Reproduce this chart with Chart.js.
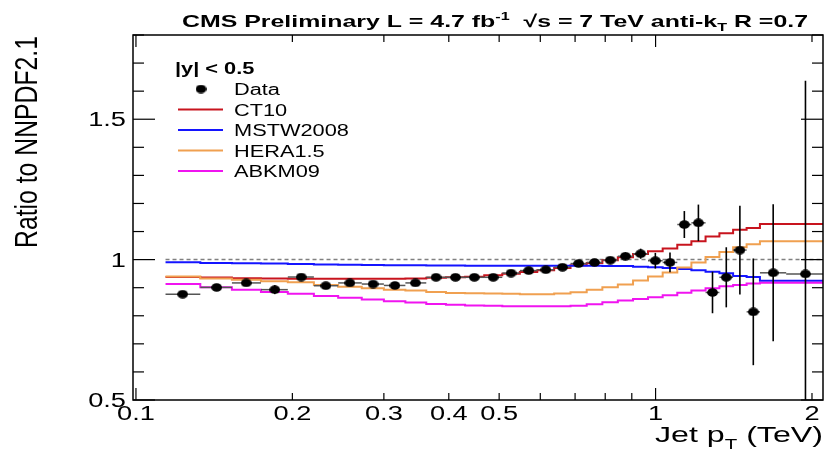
<!DOCTYPE html>
<html>
<head>
<meta charset="utf-8">
<title>Ratio to NNPDF2.1</title>
<script src="https://cdn.jsdelivr.net/npm/chart.js@4.4.1/dist/chart.umd.min.js"></script>
<style>
  html, body { margin: 0; padding: 0; background: #fff; }
  #wrap { width: 829px; height: 451px; }
</style>
</head>
<body>
<div id="wrap"><canvas id="ratioChart" width="829" height="451"></canvas></div>
<script>
/* ===== Data ===== */
// jet pT bin edges (TeV); the last two bins are merged ones
const binEdges = [0.114, 0.133, 0.153, 0.174, 0.196, 0.220, 0.245, 0.272, 0.300, 0.330,
  0.362, 0.395, 0.430, 0.468, 0.507, 0.548, 0.592, 0.638, 0.686, 0.737,
  0.790, 0.846, 0.905, 0.967, 1.032, 1.101, 1.172, 1.248, 1.327, 1.410,
  1.497, 1.588, 1.784, 2.116];

const dataPt = [0.123, 0.143, 0.163, 0.185, 0.208, 0.232, 0.258, 0.286, 0.315, 0.345,
  0.378, 0.412, 0.448, 0.487, 0.527, 0.570, 0.615, 0.662, 0.711, 0.763,
  0.818, 0.875, 0.936, 0.999, 1.066, 1.136, 1.209, 1.287, 1.368, 1.453,
  1.542, 1.684, 1.943];
const dataRatio = [0.877, 0.901, 0.917, 0.893, 0.938, 0.907, 0.917, 0.913, 0.908, 0.917,
  0.937, 0.937, 0.937, 0.937, 0.952, 0.961, 0.964, 0.973, 0.986, 0.990,
  0.998, 1.012, 1.021, 0.996, 0.990, 1.125, 1.131, 0.883, 0.937, 1.034,
  0.814, 0.953, 0.949];
const dataErr = [0.006, 0.006, 0.006, 0.016, 0.006, 0.006, 0.006, 0.006, 0.006, 0.006,
  0.006, 0.006, 0.006, 0.006, 0.006, 0.006, 0.007, 0.007, 0.008, 0.010,
  0.012, 0.014, 0.018, 0.028, 0.035, 0.048, 0.065, 0.074, 0.107, 0.158,
  0.190, 0.244, 0.688];

// theory / NNPDF2.1, one value per bin
const ct10 = [0.938, 0.936, 0.934, 0.933, 0.932, 0.932, 0.932, 0.932, 0.932, 0.933,
  0.935, 0.937, 0.939, 0.944, 0.950, 0.956, 0.962, 0.970, 0.980, 0.988,
  0.998, 1.008, 1.020, 1.030, 1.040, 1.053, 1.065, 1.082, 1.094, 1.106,
  1.113, 1.127, 1.127];
const mstw2008 = [0.991, 0.988, 0.987, 0.986, 0.984, 0.983, 0.982, 0.981, 0.980, 0.980,
  0.979, 0.979, 0.978, 0.978, 0.978, 0.978, 0.978, 0.978, 0.978, 0.978,
  0.977, 0.977, 0.975, 0.973, 0.970, 0.967, 0.962, 0.957, 0.951, 0.942,
  0.938, 0.925, 0.925];
const hera15 = [0.940, 0.933, 0.928, 0.923, 0.919, 0.910, 0.903, 0.898, 0.893, 0.890,
  0.885, 0.881, 0.880, 0.879, 0.878, 0.877, 0.877, 0.879, 0.884, 0.893,
  0.902, 0.911, 0.926, 0.940, 0.954, 0.972, 0.990, 1.009, 1.027, 1.044,
  1.055, 1.065, 1.065];
const abkm09 = [0.913, 0.902, 0.893, 0.885, 0.878, 0.870, 0.864, 0.858, 0.852, 0.847,
  0.842, 0.839, 0.837, 0.836, 0.834, 0.834, 0.834, 0.834, 0.836, 0.841,
  0.848, 0.854, 0.860, 0.866, 0.873, 0.882, 0.890, 0.898, 0.905, 0.910,
  0.915, 0.918, 0.918];

const xTicks = [0.1, 0.2, 0.3, 0.4, 0.5, 0.6, 0.7, 0.8, 0.9, 1, 2];
const xLabelValues = [0.1, 0.2, 0.3, 0.4, 0.5, 1, 2];
const xLabelText = ["0.1", "0.2", "0.3", "0.4", "0.5", "1", "2"];
const yTicks = [0.5, 0.6, 0.7, 0.8, 0.9, 1.0, 1.1, 1.2, 1.3, 1.4, 1.5, 1.6, 1.7, 1.8];
const yLabelValues = [0.5, 1, 1.5];
const yLabelText = ["0.5", "1", "1.5"];

const series = [
  { label: "CT10", values: ct10, color: "#c8141e" },
  { label: "MSTW2008", values: mstw2008, color: "#1414ff" },
  { label: "HERA1.5", values: hera15, color: "#f0a050" },
  { label: "ABKM09", values: abkm09, color: "#f014f0" },
];

/* ===== Helpers ===== */
const FONT = "'Liberation Sans', Arial, Helvetica, sans-serif";
const TEXT_SX = 1.36;

function stepPoints(values) {
  const pts = values.map((v, i) => ({ x: binEdges[i], y: v }));
  pts.push({ x: binEdges[binEdges.length - 1], y: values[values.length - 1] });
  return pts;
}

function makeMarker() {
  const c = document.createElement("canvas");
  c.width = 11;
  c.height = 9;
  const g = c.getContext("2d");
  g.fillStyle = "#000";
  g.beginPath();
  g.ellipse(5.5, 4.5, 5.4, 4.3, 0, 0, Math.PI * 2);
  g.fill();
  return c;
}
const marker = makeMarker();

// draws a row of text runs [text, font, dy], stretched to width (or TEXT_SX)
function drawRuns(ctx, runs, x, y, width, align) {
  ctx.save();
  let total = 0;
  const widths = runs.map(([t, f]) => {
    ctx.font = f;
    const w = ctx.measureText(t).width;
    total += w;
    return w;
  });
  const sx = width ? width / total : TEXT_SX;
  let startX = x;
  if (align === "right") startX = x - total * sx;
  if (align === "center") startX = x - (total * sx) / 2;
  ctx.translate(startX, y);
  ctx.scale(sx, 1);
  ctx.textAlign = "left";
  ctx.textBaseline = "alphabetic";
  ctx.fillStyle = "#000";
  let cx = 0;
  runs.forEach(([t, f, dy], i) => {
    ctx.font = f;
    ctx.fillText(t, cx, dy || 0);
    cx += widths[i];
  });
  ctx.restore();
}

function strokeLine(ctx, x1, y1, x2, y2) {
  ctx.beginPath();
  ctx.moveTo(x1, y1);
  ctx.lineTo(x2, y2);
  ctx.stroke();
}

/* ===== Plugins ===== */
const errorBars = {
  id: "errorBars",
  beforeDatasetDraw(chart, args) {
    if (args.index !== 0) return;
    const { ctx, chartArea, scales } = chart;
    const xs = scales.x;
    const ys = scales.y;
    ctx.save();
    ctx.beginPath();
    ctx.rect(chartArea.left, chartArea.top, chartArea.right - chartArea.left, chartArea.bottom - chartArea.top);
    ctx.clip();
    dataPt.forEach((pt, i) => {
      const px = xs.getPixelForValue(pt);
      const py = ys.getPixelForValue(dataRatio[i]);
      ctx.strokeStyle = "#555";
      ctx.lineWidth = 1.5;
      strokeLine(ctx, xs.getPixelForValue(binEdges[i]), py, xs.getPixelForValue(binEdges[i + 1]), py);
      ctx.strokeStyle = "#000";
      ctx.lineWidth = 1.6;
      strokeLine(ctx, px, ys.getPixelForValue(dataRatio[i] - dataErr[i]), px, ys.getPixelForValue(dataRatio[i] + dataErr[i]));
    });
    ctx.restore();
  },
};

const frameAndText = {
  id: "frameAndText",
  afterDraw(chart) {
    const { ctx, chartArea, scales } = chart;
    const xs = scales.x;
    const ys = scales.y;
    const { left, right, top, bottom } = chartArea;

    ctx.save();
    ctx.strokeStyle = "#000";
    ctx.lineWidth = 1.5;
    ctx.strokeRect(left, top, right - left, bottom - top);

    // ticks point inward on all four sides
    ctx.lineWidth = 1.2;
    xTicks.forEach((v) => {
      const px = xs.getPixelForValue(v);
      const len = v === 0.1 || v === 1 ? 12 : 7;
      strokeLine(ctx, px, bottom, px, bottom - len);
      strokeLine(ctx, px, top, px, top + len);
    });
    yTicks.forEach((v) => {
      const py = ys.getPixelForValue(v);
      const len = yLabelValues.includes(v) ? 22 : 11;
      strokeLine(ctx, left, py, left + len, py);
      strokeLine(ctx, right, py, right - len, py);
    });
    ctx.restore();

    // tick labels
    const tickFont = `20px ${FONT}`;
    xLabelValues.forEach((v, i) => {
      drawRuns(ctx, [[xLabelText[i], tickFont]], xs.getPixelForValue(v), 420, 0, "center");
    });
    yLabelValues.forEach((v, i) => {
      drawRuns(ctx, [[yLabelText[i], tickFont]], 126, ys.getPixelForValue(v) + 7, 0, "right");
    });

    // title
    const tf = `bold 17px ${FONT}`;
    const tfs = `bold 11px ${FONT}`;
    drawRuns(ctx, [
      ["CMS Preliminary L = 4.7 fb", tf],
      ["-1", tfs, -7],
      ["  \u221As = 7 TeV anti-k", tf],
      ["T", tfs, 4],
      [" R =0.7", tf],
    ], 182, 27, 626, "left");

    // axis titles
    drawRuns(ctx, [
      ["Jet p", `22px ${FONT}`],
      ["T", `14px ${FONT}`, 7],
      [" (TeV)", `22px ${FONT}`],
    ], 823, 442, 168, "right");

    ctx.save();
    ctx.translate(37, 36);
    ctx.rotate(-Math.PI / 2);
    ctx.font = `24px ${FONT}`;
    const yTitle = "Ratio to NNPDF2.1";
    const len = ctx.measureText(yTitle).width;
    ctx.scale(212 / len, 1.3);
    ctx.textAlign = "right";
    ctx.textBaseline = "alphabetic";
    ctx.fillStyle = "#000";
    ctx.fillText(yTitle, 0, 0);
    ctx.restore();

    // legend
    drawRuns(ctx, [["|y| < 0.5", `bold 16px ${FONT}`]], 175, 74, 0, "left");
    const legendFont = `16px ${FONT}`;
    ctx.drawImage(marker, 201 - 5.5, 89 - 4.5);
    drawRuns(ctx, [["Data", legendFont]], 234, 95, 0, "left");
    const rows = [109.5, 130, 150.5, 171];
    series.forEach((s, i) => {
      ctx.save();
      ctx.strokeStyle = s.color;
      ctx.lineWidth = 2;
      strokeLine(ctx, 178, rows[i], 223, rows[i]);
      ctx.restore();
      drawRuns(ctx, [[s.label, legendFont]], 234, rows[i] + 6, 0, "left");
    });
  },
};

/* ===== Chart ===== */
const datasets = [
  {
    label: "Data",
    data: dataPt.map((x, i) => ({ x, y: dataRatio[i] })),
    showLine: false,
    pointStyle: marker,
    pointRadius: 5,
    order: 0,
  },
  ...series.map((s, i) => ({
    label: s.label,
    data: stepPoints(s.values),
    borderColor: s.color,
    borderWidth: 2,
    borderJoinStyle: "miter",
    stepped: "before",
    pointRadius: 0,
    fill: false,
    order: 4 - i,
  })),
  {
    label: "unity",
    data: [{ x: binEdges[0], y: 1 }, { x: binEdges[binEdges.length - 1], y: 1 }],
    borderColor: "#808080",
    borderWidth: 1.5,
    borderDash: [4, 3],
    pointRadius: 0,
    fill: false,
    order: 9,
  },
];

new Chart(document.getElementById("ratioChart"), {
  type: "line",
  data: { datasets },
  options: {
    responsive: false,
    animation: false,
    devicePixelRatio: 1,
    layout: { padding: { left: 133, right: 4, top: 35, bottom: 51 } },
    plugins: { legend: { display: false }, tooltip: { enabled: false } },
    scales: {
      x: { type: "logarithmic", min: 0.0987, max: 2.1, bounds: "data", display: false },
      y: { type: "linear", min: 0.5, max: 1.8, display: false },
    },
  },
  plugins: [errorBars, frameAndText],
});
</script>
</body>
</html>
